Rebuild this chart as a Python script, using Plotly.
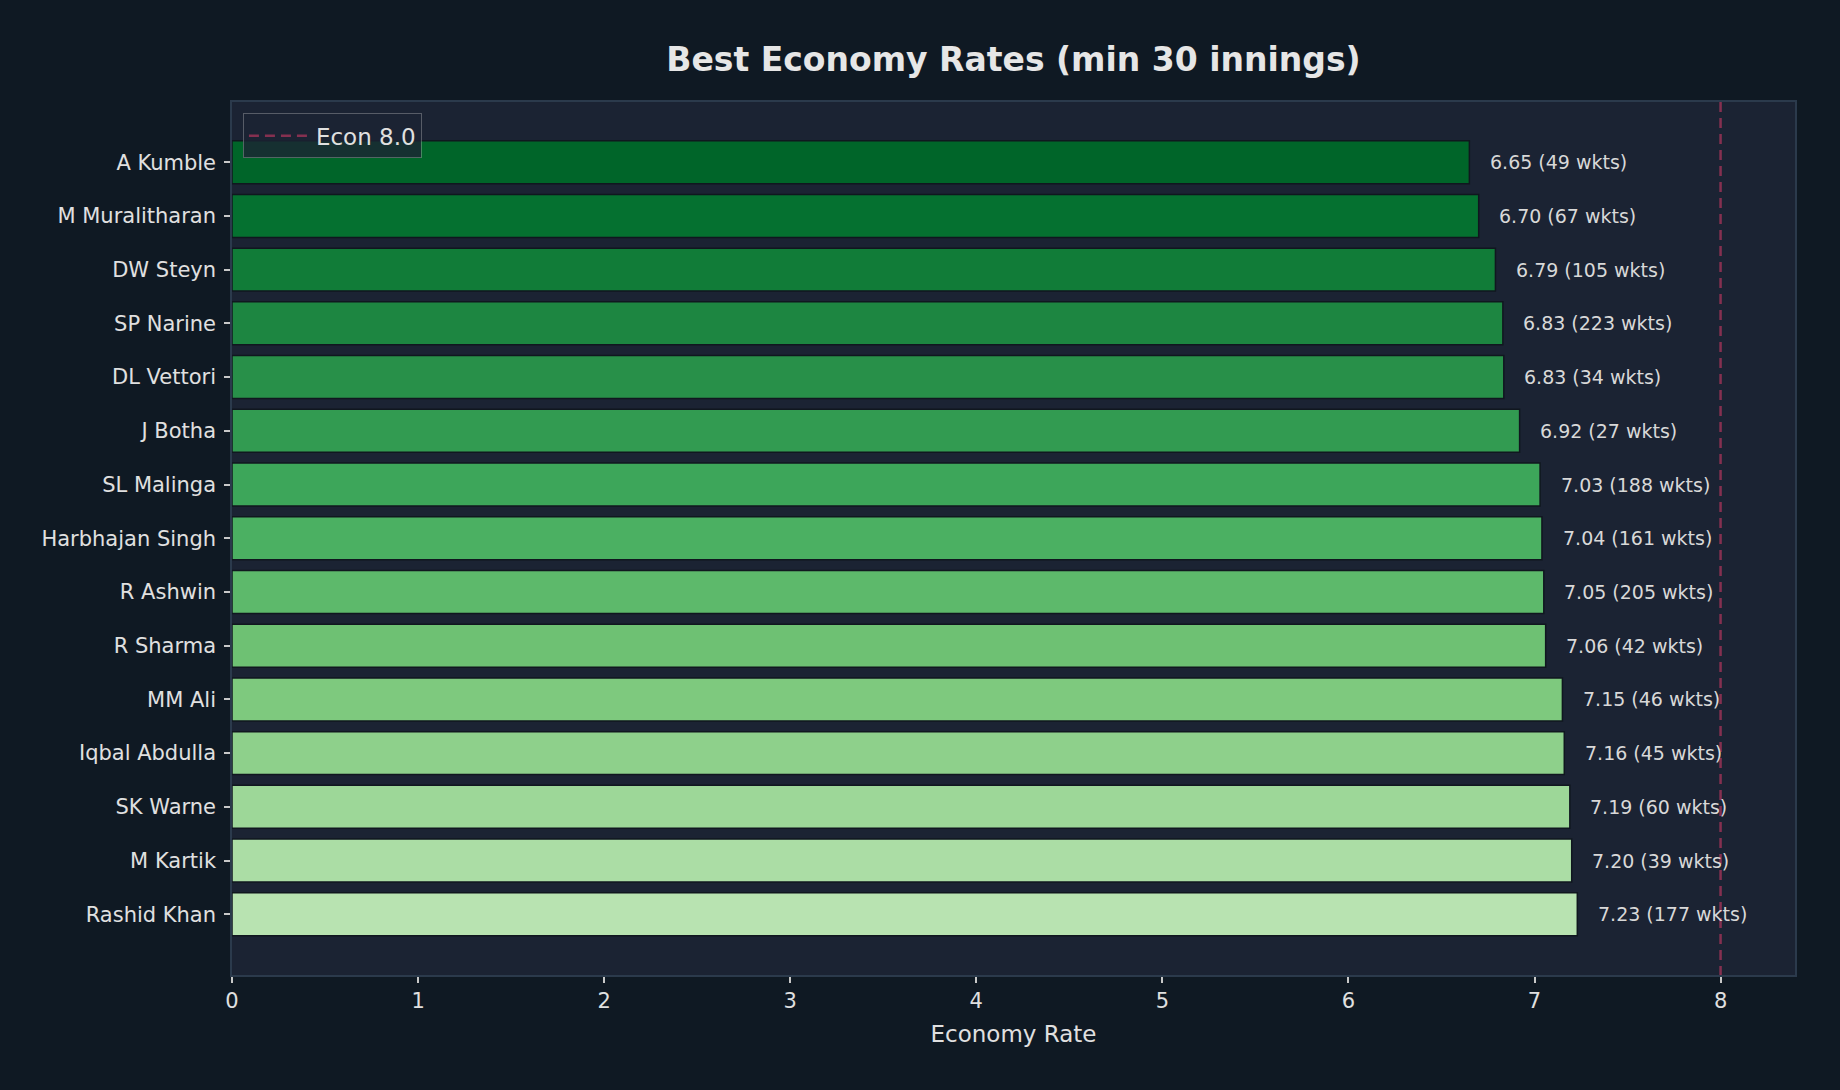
import plotly.graph_objects as go
import numpy as np

players = ["A Kumble", "M Muralitharan", "DW Steyn", "SP Narine", "DL Vettori", "J Botha",
           "SL Malinga", "Harbhajan Singh", "R Ashwin", "R Sharma", "MM Ali", "Iqbal Abdulla",
           "SK Warne", "M Kartik", "Rashid Khan"]
economy = [6.65, 6.70, 6.79, 6.83, 6.835, 6.92, 7.03, 7.04, 7.05, 7.06, 7.15, 7.16, 7.19, 7.20, 7.23]
wickets = [49, 67, 105, 223, 34, 27, 188, 161, 205, 42, 46, 45, 60, 39, 177]
threshold = 8.0

# matplotlib "Greens" colormap stops
greens = ["#f7fcf5", "#e5f5e0", "#c7e9c0", "#a1d99b", "#74c476", "#41ab5d", "#238b45", "#006d2c", "#00441b"]

def cmap(v):
    pos = v * (len(greens) - 1)
    i = min(int(pos), len(greens) - 2)
    t = pos - i
    a = [int(greens[i][k:k + 2], 16) for k in (1, 3, 5)]
    b = [int(greens[i + 1][k:k + 2], 16) for k in (1, 3, 5)]
    c = [round(a[j] + (b[j] - a[j]) * t) for j in range(3)]
    return "rgb(%d,%d,%d)" % tuple(c)

colors = [cmap(v) for v in np.linspace(0.9, 0.3, len(players))]

FONT = "DejaVu Sans"
fig = go.Figure()
fig.add_trace(go.Bar(
    x=economy, y=players, orientation="h",
    marker=dict(color=colors, line=dict(color="#10171f", width=1.5)),
    width=0.8, showlegend=False, hoverinfo="skip",
))
fig.add_trace(go.Scatter(
    x=[threshold, threshold], y=[-1.12, 15.13], mode="lines",
    line=dict(color="#853050", width=2.5, dash="10px,6px"),
    name="Econ 8.0", yaxis="y2",
))

for p, e, w in zip(players, economy, wickets):
    fig.add_annotation(x=e + 0.1, y=p, text="%.2f (%d wkts)" % (e, w), showarrow=False,
                       xanchor="left", yanchor="middle",
                       font=dict(family=FONT, size=19, color="#d8d8d8"))

fig.update_layout(
    width=1840, height=1090,
    paper_bgcolor="#0f1923", plot_bgcolor="#1b2333",
    margin=dict(l=232, r=45, t=102, b=115),
    font=dict(family=FONT, color="#e0e0e0"),
    title=dict(text="<b>Best Economy Rates (min 30 innings)</b>", x=0.5508, xanchor="center",
               y=1 - 59 / 1090, yanchor="middle", yref="container",
               font=dict(family=FONT, size=33, color="#e6e6e6")),
    xaxis=dict(range=[0, 8.4], tickvals=list(range(9)), showgrid=False, zeroline=False,
               showline=True, linecolor="#2b3a4c", linewidth=1.5, mirror=True,
               ticks="outside", ticklen=6, tickcolor="#c8c8c8", tickwidth=1.5,
               tickfont=dict(size=21, color="#e0e0e0"),
               title=dict(text="Economy Rate", font=dict(size=23, color="#e0e0e0"), standoff=14)),
    yaxis=dict(range=[15.13, -1.12], showgrid=False, zeroline=False,
               showline=True, linecolor="#2b3a4c", linewidth=1.5, mirror=True,
               ticks="outside", ticklen=6, tickcolor="#c8c8c8", tickwidth=1.5,
               ticklabelstandoff=4,
               tickfont=dict(size=21, color="#e0e0e0")),
    yaxis2=dict(range=[15.13, -1.12], overlaying="y", visible=False),
    legend=dict(x=0.007, y=0.987, xanchor="left", yanchor="top", itemwidth=62,
                bgcolor="rgba(27,35,51,0.8)", bordercolor="rgba(200,200,200,0.35)", borderwidth=1,
                font=dict(size=23, color="#e0e0e0")),
    bargap=0.2,
)

fig.write_html("out.html")
